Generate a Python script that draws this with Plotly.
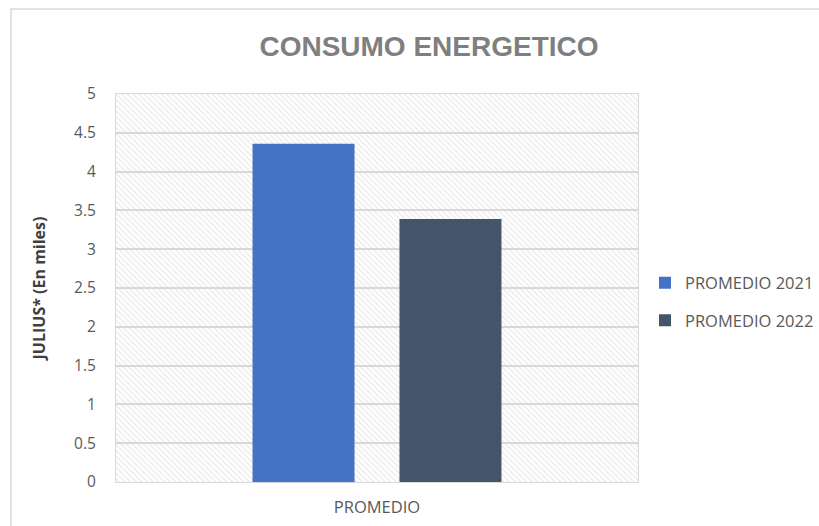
import plotly.graph_objects as go

categories = ["PROMEDIO"]
series_names = ["PROMEDIO 2021", "PROMEDIO 2022"]
values_2021 = [4.36]
values_2022 = [3.39]
series_colors = ["#4472C4", "#44546A"]
y_ticks = [0, 0.5, 1, 1.5, 2, 2.5, 3, 3.5, 4, 4.5, 5]
y_tick_text = ["0", "0.5", "1", "1.5", "2", "2.5", "3", "3.5", "4", "4.5", "5"]
y_max = 5

W, H = 819, 526
L, R, T, B = 116, 181, 94, 44
PW, PH = W - L - R, H - T - B

fig = go.Figure()

# hatched plot-area background (on the hidden base axis, drawn below the data)
fig.add_trace(go.Bar(
    x=[0.5], y=[y_max], width=[1], xaxis="x", yaxis="y",
    marker=dict(color="rgba(0,0,0,0)", line=dict(width=0),
                pattern=dict(shape="\\", fgcolor="#d2d2d2", bgcolor="rgba(0,0,0,0)",
                             size=4, solidity=0.3)),
    showlegend=False, hoverinfo="skip",
))

for i, (name, vals) in enumerate(zip(series_names, [values_2021, values_2022])):
    fig.add_trace(go.Bar(
        x=categories, y=vals, name=name, xaxis="x2", yaxis="y",
        marker=dict(color=series_colors[i], line=dict(width=0)),
        legendgroup=name,
    ))

text_font = "Open Sans, Liberation Sans, Arial"
title_font = "Liberation Sans, Arial"
fig.update_layout(
    width=W, height=H,
    margin=dict(l=L, r=R, t=T, b=B, autoexpand=False),
    paper_bgcolor="white", plot_bgcolor="white",
    barmode="group", bargap=0.437, bargroupgap=0.306,
    font=dict(family=text_font, color="#595959", size=15),
    title=dict(text="<b>CONSUMO ENERGETICO</b>", x=429 / W, xanchor="center",
               y=1 - 46 / H, yanchor="middle", yref="container",
               font=dict(size=28, color="#7F7F7F", family=title_font)),
    xaxis=dict(range=[0, 1], visible=False, fixedrange=True),
    xaxis2=dict(overlaying="x", type="category", showgrid=False,
                showline=True, linecolor="#D9D9D9", mirror=True, linewidth=1,
                ticks="", ticklabelstandoff=10,
                tickfont=dict(size=16.5, color="#595959")),
    yaxis=dict(range=[0, y_max], tickvals=y_ticks, ticktext=y_tick_text,
               showgrid=True, gridcolor="#D9D9D9", gridwidth=1.5,
               showline=True, linecolor="#D9D9D9", mirror=True, linewidth=1,
               zeroline=False, ticks="", ticklabelstandoff=16,
               tickfont=dict(size=15.5, color="#595959"),
               title=dict(text="<b>JULIUS* (En miles)</b>", standoff=24,
                          font=dict(size=16, color="#404040", family=text_font))),
    legend=dict(x=(645 - L) / PW, y=(H - B - 301.5) / PH,
                xanchor="left", yanchor="middle", tracegroupgap=13,
                font=dict(size=16.5, color="#595959")),
    shapes=[dict(type="rect", xref="paper", yref="paper",
                 x0=(11 - L) / PW, x1=(W + 20 - L) / PW,
                 y0=-0.5, y1=1 + (T - 9) / PH,
                 line=dict(color="#D9D9D9", width=1.5), layer="below")],
)

fig.write_html("out.html", config={"displayModeBar": False},
               post_script="document.body.style.margin='0';")
